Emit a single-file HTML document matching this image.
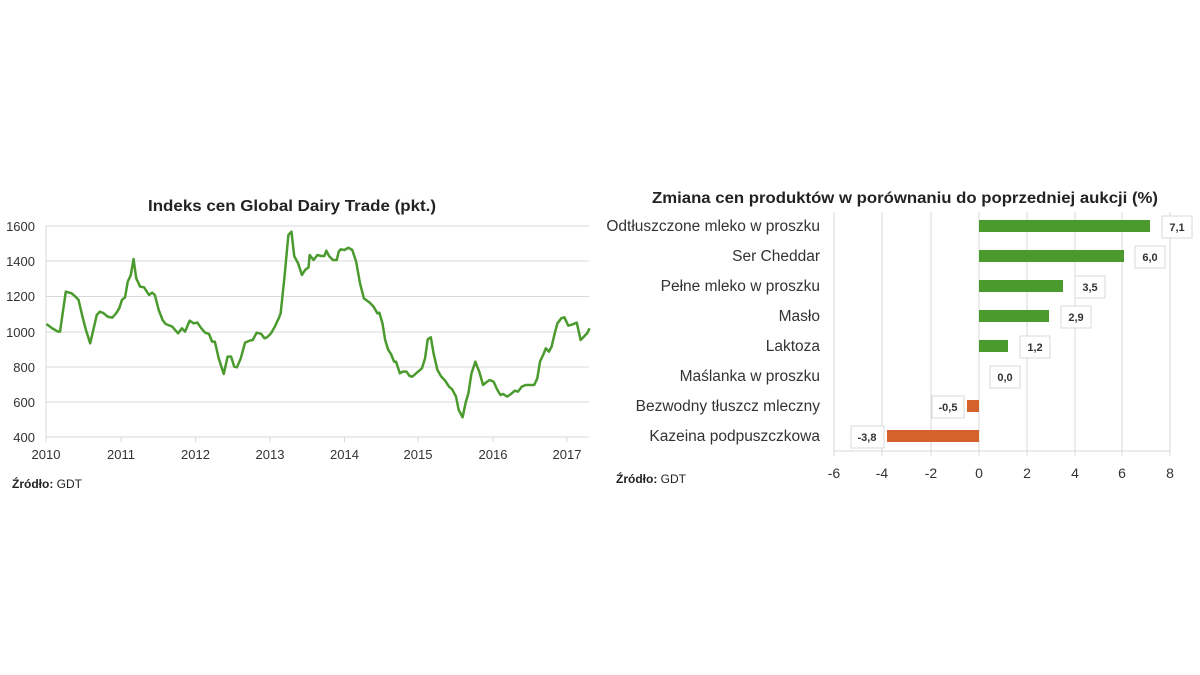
<!DOCTYPE html>
<html><head><meta charset="utf-8"><style>
body{margin:0;background:#fff;}
svg{display:block;font-family:"Liberation Sans",sans-serif;}
</style></head><body>
<svg width="1200" height="675" viewBox="0 0 1200 675">
<rect width="1200" height="675" fill="#fff"/>
<!-- LEFT CHART -->
<text x="292" y="211" font-size="16" font-weight="bold" text-anchor="middle" textLength="288" lengthAdjust="spacingAndGlyphs" fill="#222">Indeks cen Global Dairy Trade (pkt.)</text>
<g stroke="#d9d9d9" stroke-width="1">
<line x1="46" y1="226" x2="589" y2="226"/><line x1="46" y1="261" x2="589" y2="261"/>
<line x1="46" y1="296.5" x2="589" y2="296.5"/><line x1="46" y1="332" x2="589" y2="332"/>
<line x1="46" y1="367" x2="589" y2="367"/><line x1="46" y1="402" x2="589" y2="402"/>
<line x1="46" y1="437" x2="589" y2="437"/>
<line x1="46" y1="226" x2="46" y2="437"/>
</g>
<g stroke="#d9d9d9"><line x1="46" y1="437" x2="46" y2="442"/><line x1="121" y1="437" x2="121" y2="442"/><line x1="195.5" y1="437" x2="195.5" y2="442"/><line x1="270" y1="437" x2="270" y2="442"/><line x1="344.5" y1="437" x2="344.5" y2="442"/><line x1="418" y1="437" x2="418" y2="442"/><line x1="493" y1="437" x2="493" y2="442"/><line x1="567" y1="437" x2="567" y2="442"/></g>
<g font-size="13" fill="#333" text-anchor="end">
<text x="35" y="231">1600</text><text x="35" y="266">1400</text><text x="35" y="301">1200</text><text x="35" y="337">1000</text><text x="35" y="372">800</text><text x="35" y="407">600</text><text x="35" y="442">400</text>
</g>
<g font-size="13" fill="#333" text-anchor="middle">
<text x="46" y="459">2010</text><text x="121" y="459">2011</text><text x="195.5" y="459">2012</text><text x="270" y="459">2013</text><text x="344.5" y="459">2014</text><text x="418" y="459">2015</text><text x="493" y="459">2016</text><text x="567" y="459">2017</text>
</g>
<g transform="translate(0,180) scale(0.3871,0.3333)">
<polyline fill="none" stroke="#4a9a2e" stroke-width="2.5" vector-effect="non-scaling-stroke" stroke-linejoin="round" points="120,432 135,445 150,455 155,455 170,335 185,340 195,350 203,360 213,410 222,450 233,490 243,440 250,405 258,395 268,400 278,410 290,413 300,400 308,385 315,360 323,352 330,305 338,285 345,237 352,295 362,320 372,322 385,345 393,338 400,345 410,390 420,420 428,432 445,440 460,460 470,445 478,455 490,422 500,430 510,428 520,445 530,458 540,462 548,485 555,485 565,535 578,582 588,530 597,530 605,560 612,562 622,535 633,488 645,482 653,480 663,458 675,462 683,475 690,472 700,460 710,440 720,415 725,400 735,290 745,165 753,155 760,228 770,250 780,285 788,270 797,262 800,225 810,240 820,225 830,228 838,228 843,212 850,228 860,240 870,240 875,215 880,208 890,210 900,203 910,210 920,245 930,310 940,355 955,368 965,380 975,400 980,398 988,430 995,480 1003,510 1010,522 1018,545 1023,545 1033,580 1040,575 1050,575 1058,588 1065,590 1075,580 1090,565 1098,535 1105,478 1113,472 1120,520 1130,570 1140,590 1150,602 1160,620 1168,628 1178,650 1185,690 1195,712 1203,668 1210,640 1218,580 1228,545 1238,575 1248,615 1255,608 1265,600 1275,605 1285,630 1293,645 1300,642 1310,650 1320,642 1330,632 1338,635 1348,620 1358,615 1370,615 1380,615 1388,595 1395,545 1403,525 1410,505 1418,515 1425,500 1433,460 1440,430 1450,415 1458,412 1468,437 1480,433 1490,428 1500,480 1510,468 1518,458 1523,445"/>
</g>
<text x="12" y="488" font-size="12" fill="#222"><tspan font-weight="bold">Źródło:</tspan> GDT</text>

<!-- RIGHT CHART -->
<text x="905" y="203" font-size="16" font-weight="bold" text-anchor="middle" textLength="506" lengthAdjust="spacingAndGlyphs" fill="#222">Zmiana cen produktów w porównaniu do poprzedniej aukcji (%)</text>
<g stroke="#d9d9d9" stroke-width="1">
<line x1="834" y1="212" x2="834" y2="451"/><line x1="882" y1="212" x2="882" y2="451"/><line x1="931" y1="212" x2="931" y2="451"/><line x1="979" y1="212" x2="979" y2="451"/><line x1="1027" y1="212" x2="1027" y2="451"/><line x1="1075" y1="212" x2="1075" y2="451"/><line x1="1122" y1="212" x2="1122" y2="451"/><line x1="1170" y1="212" x2="1170" y2="451"/>
<line x1="834" y1="451" x2="1170" y2="451"/>
</g>
<g stroke="#d9d9d9"><line x1="834" y1="451" x2="834" y2="456"/><line x1="882" y1="451" x2="882" y2="456"/><line x1="931" y1="451" x2="931" y2="456"/><line x1="979" y1="451" x2="979" y2="456"/><line x1="1027" y1="451" x2="1027" y2="456"/><line x1="1075" y1="451" x2="1075" y2="456"/><line x1="1122" y1="451" x2="1122" y2="456"/><line x1="1170" y1="451" x2="1170" y2="456"/></g>
<g font-size="14" fill="#333" text-anchor="middle">
<text x="834" y="478">-6</text><text x="882" y="478">-4</text><text x="931" y="478">-2</text><text x="979" y="478">0</text><text x="1027" y="478">2</text><text x="1075" y="478">4</text><text x="1122" y="478">6</text><text x="1170" y="478">8</text>
</g>
<g fill="#4a9a2e">
<rect x="979" y="220" width="171" height="12"/>
<rect x="979" y="250" width="145" height="12"/>
<rect x="979" y="280" width="84" height="12"/>
<rect x="979" y="310" width="70" height="12"/>
<rect x="979" y="340" width="29" height="12"/>
</g>
<g fill="#d4622a">
<rect x="967" y="400" width="12" height="12"/>
<rect x="887" y="430" width="92" height="12"/>
</g>
<g font-size="15.5" fill="#333" text-anchor="end">
<text x="820" y="231">Odtłuszczone mleko w proszku</text>
<text x="820" y="261">Ser Cheddar</text>
<text x="820" y="291">Pełne mleko w proszku</text>
<text x="820" y="321">Masło</text>
<text x="820" y="351">Laktoza</text>
<text x="820" y="381">Maślanka w proszku</text>
<text x="820" y="411">Bezwodny tłuszcz mleczny</text>
<text x="820" y="441">Kazeina podpuszczkowa</text>
</g>
<g fill="#fff" stroke="#d9d9d9">
<rect x="1162" y="216" width="30" height="22"/>
<rect x="1135" y="246" width="30" height="22"/>
<rect x="1075" y="276" width="30" height="22"/>
<rect x="1061" y="306" width="30" height="22"/>
<rect x="1020" y="336" width="30" height="22"/>
<rect x="990" y="366" width="30" height="22"/>
<rect x="932" y="396" width="32" height="22"/>
<rect x="851" y="426" width="33" height="22"/>
</g>
<g font-size="11" font-weight="bold" fill="#333" text-anchor="middle">
<text x="1177" y="231">7,1</text><text x="1150" y="261">6,0</text><text x="1090" y="291">3,5</text><text x="1076" y="321">2,9</text><text x="1035" y="351">1,2</text><text x="1005" y="381">0,0</text><text x="948" y="411">-0,5</text><text x="867" y="441">-3,8</text>
</g>
<text x="616" y="483" font-size="12" fill="#222"><tspan font-weight="bold">Źródło:</tspan> GDT</text>
</svg>
</body></html>
